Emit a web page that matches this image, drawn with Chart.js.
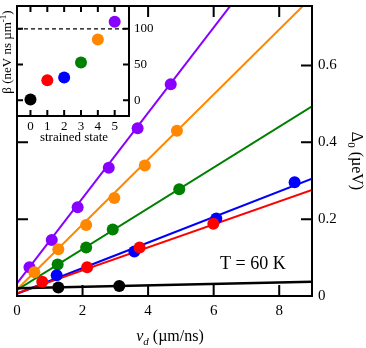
<!DOCTYPE html>
<html>
<head>
<meta charset="utf-8">
<script src="https://cdn.jsdelivr.net/npm/chart.js@4"></script>
<style>
  html, body { margin: 0; padding: 0; background: #fff; }
  #wrap { position: relative; width: 366px; height: 348px; }
  #main, #inset { position: absolute; left: 0; top: 0; }
</style>
</head>
<body>
<div id="wrap">
  <canvas id="main" width="366" height="348"></canvas>
  <canvas id="inset" width="160" height="150"></canvas>
</div>
<script>
// Main panel data: drift velocity vd (um/ns) vs splitting Delta0 (ueV)
const vdBlack = [1.26, 3.12];
const deltaBlack = [0.022, 0.026];
const vdRed = [0.77, 2.14, 3.74, 5.99];
const deltaRed = [0.037, 0.075, 0.126, 0.188];
const vdBlue = [1.21, 3.58, 6.08, 8.47];
const deltaBlue = [0.054, 0.116, 0.202, 0.296];
const vdGreen = [1.24, 2.11, 2.92, 4.95];
const deltaGreen = [0.082, 0.126, 0.173, 0.278];
const vdOrange = [0.53, 1.26, 2.11, 2.97, 3.90, 4.88];
const deltaOrange = [0.062, 0.122, 0.185, 0.255, 0.340, 0.430];
const vdPurple = [0.38, 1.06, 1.85, 2.80, 3.68, 4.69];
const deltaPurple = [0.075, 0.146, 0.231, 0.334, 0.437, 0.551];

// Linear fits (intercept, slope) in state order 0..5
const fitIntercepts = [0.020, 0.007, 0.006, 0.016, 0.017, 0.033];
const fitSlopes = [0.0019, 0.0299, 0.0333, 0.0531, 0.0846, 0.111];

// Inset data: beta per strained state
const states = [0, 1, 2, 3, 4, 5];
const betaValues = [1, 28, 32, 53, 85, 110];
const betaLimit = 100;

// Tick labels
const xTicks = [0, 2, 4, 6, 8];
const yTicks = [0, 0.2, 0.4, 0.6];
const insetXTicks = [0, 1, 2, 3, 4, 5];
const insetYTicks = [0, 50, 100];

const colors = ['#000000', '#ff0000', '#0000ff', '#008000', '#ff8800', '#8800ff'];
const SERIF = '"Liberation Serif", "Times New Roman", serif';

const series = [
  [vdBlack, deltaBlack],
  [vdRed, deltaRed],
  [vdBlue, deltaBlue],
  [vdGreen, deltaGreen],
  [vdOrange, deltaOrange],
  [vdPurple, deltaPurple]
];

// Draw a run of text pieces (normal / sub / sup) one after the other
function drawRich(ctx, parts, x, y, angle, align) {
  ctx.save();
  ctx.translate(x, y);
  ctx.rotate(angle);
  ctx.textBaseline = 'alphabetic';
  ctx.textAlign = 'left';
  ctx.fillStyle = '#000';
  let total = 0;
  parts.forEach((p) => {
    ctx.font = (p.style || '') + ' ' + p.size + 'px ' + SERIF;
    p.w = ctx.measureText(p.t).width;
    total += p.w;
  });
  let cx = align === 'center' ? -total / 2 : 0;
  parts.forEach((p) => {
    ctx.font = (p.style || '') + ' ' + p.size + 'px ' + SERIF;
    ctx.fillText(p.t, cx, p.dy || 0);
    cx += p.w;
  });
  ctx.restore();
}

// Frame plus inward ticks on all four sides
function frameAndTicks(chart, len, xVals, yVals) {
  const ctx = chart.ctx;
  const a = chart.chartArea;
  const xs = chart.scales.x;
  const ys = chart.scales.y;
  ctx.save();
  ctx.strokeStyle = '#000';
  ctx.lineWidth = 2;
  ctx.beginPath();
  xVals.forEach((v) => {
    const px = xs.getPixelForValue(v);
    ctx.moveTo(px, a.bottom);
    ctx.lineTo(px, a.bottom - len);
    ctx.moveTo(px, a.top);
    ctx.lineTo(px, a.top + len);
  });
  yVals.forEach((v) => {
    const py = ys.getPixelForValue(v);
    ctx.moveTo(a.left, py);
    ctx.lineTo(a.left + len, py);
    ctx.moveTo(a.right, py);
    ctx.lineTo(a.right - len, py);
  });
  ctx.stroke();
  ctx.strokeRect(a.left, a.top, a.right - a.left, a.bottom - a.top);
  ctx.restore();
}

// fixed axis size, no extra label padding
function fixSize(prop, size) {
  return (s) => {
    s[prop] = size;
    s.paddingTop = 0;
    s.paddingBottom = 0;
    s.paddingLeft = 0;
    s.paddingRight = 0;
  };
}

const mainDecor = {
  id: 'mainDecor',
  afterDraw(chart) {
    const ctx = chart.ctx;
    frameAndTicks(chart, 11, xTicks.slice(1), yTicks.slice(1));
    drawRich(ctx, [{ t: 'T = 60 K', size: 18 }], 220, 269, 0, 'left');
    drawRich(ctx, [
      { t: 'v', size: 16, style: 'italic' },
      { t: 'd', size: 11, style: 'italic', dy: 4 },
      { t: ' (\u00b5m/ns)', size: 16 }
    ], 170, 341, 0, 'center');
    drawRich(ctx, [
      { t: '\u0394', size: 16 },
      { t: '0', size: 11, dy: 4 },
      { t: ' (\u00b5eV)', size: 16 }
    ], 351.5, 161, Math.PI / 2, 'center');
  }
};

const insetDecor = {
  id: 'insetDecor',
  beforeDraw(chart) {
    const a = chart.chartArea;
    const ctx = chart.ctx;
    ctx.save();
    ctx.fillStyle = '#fff';
    ctx.fillRect(a.left, a.top, a.right - a.left, a.bottom - a.top);
    ctx.restore();
  },
  afterDraw(chart) {
    const ctx = chart.ctx;
    frameAndTicks(chart, 6, insetXTicks, insetYTicks);
    drawRich(ctx, [{ t: 'strained state', size: 13 }], 74, 141, 0, 'center');
    drawRich(ctx, [
      { t: '\u03b2 (neV ns \u00b5m', size: 13 },
      { t: '-1', size: 9, dy: -5 },
      { t: ')', size: 13 }
    ], 10.5, 52, -Math.PI / 2, 'center');
  }
};

// Main chart datasets: points on top, fit lines below
const mainDatasets = [];
series.forEach(([xs, ys], i) => {
  mainDatasets.push({
    data: xs.map((x, j) => ({ x: x, y: ys[j] })),
    showLine: false,
    pointRadius: 6,
    pointHoverRadius: 6,
    pointBackgroundColor: colors[i],
    pointBorderWidth: 0,
    order: 0
  });
});
series.forEach((s, i) => {
  mainDatasets.push({
    data: [0, 9].map((x) => ({ x: x, y: fitIntercepts[i] + fitSlopes[i] * x })),
    showLine: true,
    pointRadius: 0,
    borderColor: colors[i],
    borderWidth: i === 0 ? 2.5 : 2,
    order: 1
  });
});

const tickFont = (size) => ({ family: SERIF, size: size });

new Chart(document.getElementById('main'), {
  type: 'scatter',
  data: { datasets: mainDatasets },
  plugins: [mainDecor],
  options: {
    responsive: false,
    animation: false,
    devicePixelRatio: 1,
    layout: { padding: { left: 17, top: 2, right: 0, bottom: 0 } },
    plugins: { legend: { display: false }, tooltip: { enabled: false } },
    scales: {
      x: {
        type: 'linear',
        min: 0,
        max: 9,
        afterBuildTicks: (s) => { s.ticks = xTicks.map((v) => ({ value: v })); },
        afterFit: fixSize('height', 52),
        grid: { display: false, drawTicks: false },
        border: { display: false },
        ticks: { padding: 6, color: '#000', font: tickFont(15), maxRotation: 0, autoSkip: false }
      },
      y: {
        type: 'linear',
        position: 'right',
        min: 0,
        max: 0.755,
        afterBuildTicks: (s) => { s.ticks = yTicks.map((v) => ({ value: v })); },
        afterFit: fixSize('width', 54),
        grid: { display: false, drawTicks: false },
        border: { display: false },
        ticks: {
          padding: 6,
          color: '#000',
          font: tickFont(15),
          autoSkip: false,
          callback: (v) => (v === 0 ? '0' : v.toFixed(1))
        }
      }
    }
  }
});

new Chart(document.getElementById('inset'), {
  type: 'scatter',
  data: {
    datasets: [
      {
        data: states.map((s, i) => ({ x: s, y: betaValues[i] })),
        showLine: false,
        pointRadius: 6,
        pointHoverRadius: 6,
        pointBackgroundColor: colors,
        pointBorderWidth: 0,
        order: 0
      },
      {
        data: [-0.8, 5.85].map((x) => ({ x: x, y: betaLimit })),
        showLine: true,
        pointRadius: 0,
        borderColor: '#000',
        borderWidth: 1.3,
        borderDash: [4, 3],
        order: 1
      }
    ]
  },
  plugins: [insetDecor],
  options: {
    responsive: false,
    animation: false,
    devicePixelRatio: 1,
    layout: { padding: { left: 17, top: 2, right: 0, bottom: 0 } },
    plugins: { legend: { display: false }, tooltip: { enabled: false } },
    scales: {
      x: {
        type: 'linear',
        min: -0.8,
        max: 5.85,
        afterBuildTicks: (s) => { s.ticks = insetXTicks.map((v) => ({ value: v })); },
        afterFit: fixSize('height', 34),
        grid: { display: false, drawTicks: false },
        border: { display: false },
        ticks: { padding: 3, color: '#000', font: tickFont(13), maxRotation: 0, autoSkip: false }
      },
      y: {
        type: 'linear',
        position: 'right',
        min: -22,
        max: 132,
        afterBuildTicks: (s) => { s.ticks = insetYTicks.map((v) => ({ value: v })); },
        afterFit: fixSize('width', 31),
        grid: { display: false, drawTicks: false },
        border: { display: false },
        ticks: { padding: 5, color: '#000', font: tickFont(13), autoSkip: false }
      }
    }
  }
});
</script>
</body>
</html>
